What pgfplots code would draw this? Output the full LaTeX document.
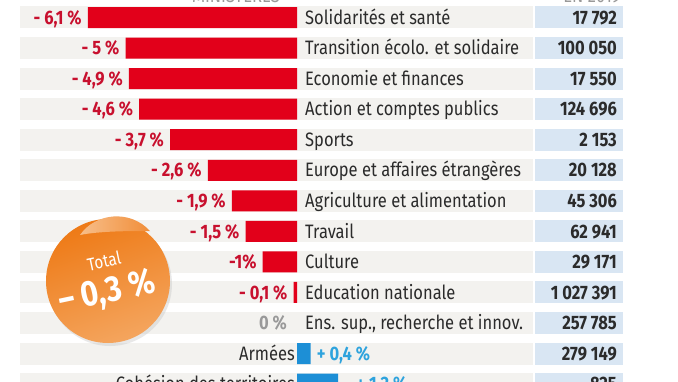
\documentclass[border=0pt]{standalone}
\usepackage{fontspec}
\setmainfont{Fira Sans}[FakeStretch=0.85]
\usepackage{pgfplots}
\pgfplotsset{compat=1.18}
\definecolor{barred}{HTML}{E2001A}
\definecolor{txtred}{HTML}{C8102E}
\definecolor{barblue}{HTML}{1D8FD6}
\definecolor{txtblue}{HTML}{2EA3DD}
\definecolor{stripe}{HTML}{F3F2EF}
\definecolor{cell}{HTML}{D9E6F3}
\definecolor{txtdark}{HTML}{2B2B2B}
\definecolor{orA}{HTML}{EE7A16}
\definecolor{orB}{HTML}{F4A55E}
\definecolor{orFlap}{HTML}{F7BE8A}
\newcommand\lab{\fontsize{19.5}{22}\selectfont}
\newcommand\num{\fontsize{19.5}{22}\selectfont\bfseries}
\begin{document}
\begin{tikzpicture}[x=1bp,y=1bp]
\useasboundingbox (0,0) rectangle (678,381);
\clip (0,0) rectangle (678,381);
\fill[white] (0,0) rectangle (678,381);
% row stripes
\foreach \i in {0,...,12} {
  \pgfmathsetmacro\yc{381-(17.5+30.55*\i)}
  \fill[stripe] (20,\yc-11) rectangle (533,\yc+11);
  \fill[cell] (535,\yc-11) rectangle (623,\yc+11);
}
% header (cut by the top edge)
\node[anchor=base, text=gray!80, font=\lab] at (236,379) {MINISTÈRES};
\node[anchor=base, text=gray!80, font=\lab] at (592,379) {EN 2019};
% sticker
\fill[black!25, opacity=0.35] (110,97) circle (62);
\shade[top color=orA, bottom color=orB, shading angle=20] (108,100) circle (62);
\shade[left color=orFlap, right color=orA!85] (80,146) .. controls (95,168) and (130,172) .. (150,150) .. controls (130,150) and (100,150) .. (80,146) -- cycle;
\node[text=white, inner sep=0pt, font=\fontsize{18}{20}\selectfont, rotate=12] at (104,120) {Total};
\node[text=white, inner sep=0pt, font=\fontsize{36}{38}\selectfont\bfseries, rotate=12] at (107,88) {– 0,3 \%};
\begin{axis}[at={(0,0)}, anchor=south west, scale only axis,
  width=678bp, height=381bp, hide axis, clip=false,
  xmin=-8.659, xmax=11.108, ymin=-0.573, ymax=11.898, y dir=reverse,
  xbar, bar width=21bp, bar shift=0pt]
\addplot[fill=barred, draw=none] coordinates {
  (-6.1,0) (-5,1) (-4.9,2) (-4.6,3) (-3.7,4) (-2.6,5) (-1.9,6) (-1.5,7) (-1,8) (-0.1,9)};
\addplot[fill=barblue, draw=none] coordinates {(0.4,11) (1.2,12)};
% percentage labels
\begin{scope}[every node/.style={font=\lab\bfseries, inner sep=0pt, anchor=base east, xshift=-6bp, yshift=-6.7bp, text=txtred}]
\node at (axis cs:-6.1,0) {- 6,1 \%};
\node at (axis cs:-5,1) {- 5 \%};
\node at (axis cs:-4.9,2) {- 4,9 \%};
\node at (axis cs:-4.6,3) {- 4,6 \%};
\node at (axis cs:-3.7,4) {- 3,7 \%};
\node at (axis cs:-2.6,5) {- 2,6 \%};
\node at (axis cs:-1.9,6) {- 1,9 \%};
\node at (axis cs:-1.5,7) {- 1,5 \%};
\node at (axis cs:-1,8) {-1\%};
\node at (axis cs:-0.1,9) {- 0,1 \%};
\node[text=gray!80, xshift=-4bp] at (axis cs:0,10) {0 \%};
\end{scope}
\begin{scope}[every node/.style={font=\lab\bfseries, inner sep=0pt, anchor=base west, xshift=6bp, yshift=-6.7bp, text=txtblue}]
\node at (axis cs:0.4,11) {+ 0,4 \%};
\node[xshift=12bp] at (axis cs:1.2,12) {+ 1,2 \%};
\end{scope}
% category labels
\begin{scope}[every node/.style={font=\lab, inner sep=0pt, anchor=base west, xshift=8bp, yshift=-6.7bp, text=txtdark}]
\node at (axis cs:0,0) {Solidarités et santé};
\node at (axis cs:0,1) {Transition écolo. et solidaire};
\node at (axis cs:0,2) {Economie et finances};
\node at (axis cs:0,3) {Action et comptes publics};
\node at (axis cs:0,4) {Sports};
\node at (axis cs:0,5) {Europe et affaires étrangères};
\node at (axis cs:0,6) {Agriculture et alimentation};
\node at (axis cs:0,7) {Travail};
\node at (axis cs:0,8) {Culture};
\node at (axis cs:0,9) {Education nationale};
\node at (axis cs:0,10) {Ens. sup., recherche et innov.};
\node[anchor=base east, xshift=-10bp] at (axis cs:0,11) {Armées};
\node[anchor=base east, xshift=-10bp] at (axis cs:0,12) {Cohésion des territoires};
\end{scope}
% staff numbers
\begin{scope}[every node/.style={font=\num, inner sep=0pt, anchor=base east, yshift=-6.7bp, text=txtdark}]
\node at (axis cs:9.33,0) {17 792};
\node at (axis cs:9.33,1) {100 050};
\node at (axis cs:9.33,2) {17 550};
\node at (axis cs:9.33,3) {124 696};
\node at (axis cs:9.33,4) {2 153};
\node at (axis cs:9.33,5) {20 128};
\node at (axis cs:9.33,6) {45 306};
\node at (axis cs:9.33,7) {62 941};
\node at (axis cs:9.33,8) {29 171};
\node at (axis cs:9.33,9) {1 027 391};
\node at (axis cs:9.33,10) {257 785};
\node at (axis cs:9.33,11) {279 149};
\node at (axis cs:9.33,12) {825};
\end{scope}
\end{axis}
\end{tikzpicture}
\end{document}
